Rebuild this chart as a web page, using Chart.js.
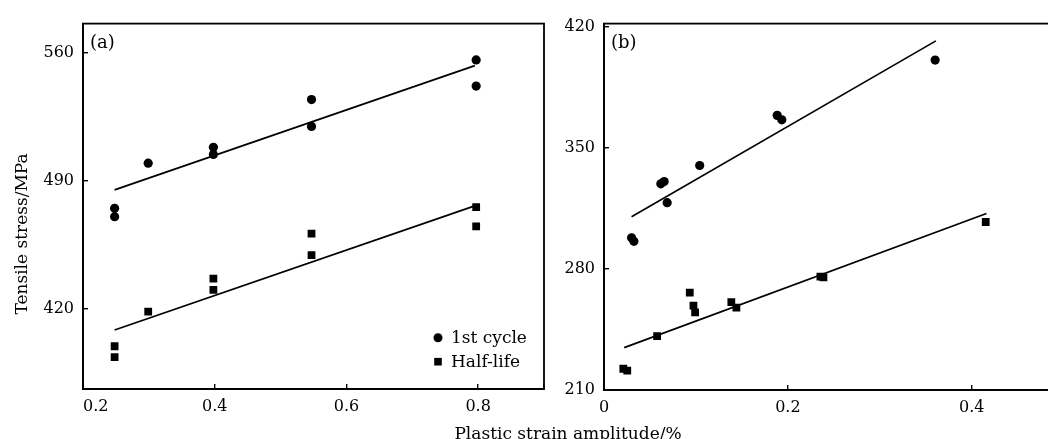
<!DOCTYPE html>
<html>
<head>
<meta charset="utf-8">
<script src="https://cdn.jsdelivr.net/npm/chart.js@4.4.1/dist/chart.umd.min.js"></script>
<style>
  html, body { margin: 0; padding: 0; background: #fff; overflow: hidden; width: 1048px; height: 439px; }
  canvas { position: absolute; left: 0; top: 0; }
</style>
</head>
<body>
<canvas id="chartA" width="1048" height="439"></canvas>
<canvas id="chartB" width="1060" height="439"></canvas>
<script>
// ---------- data ----------
const seriesNames = ['1st cycle', 'Half-life'];
const xAxisTitle = 'Plastic strain amplitude/%';
const yAxisTitle = 'Tensile stress/MPa';
const panelLabels = ['(a)', '(b)'];

const xTicksA = [0.2, 0.4, 0.6, 0.8];
const yTicksA = [420, 490, 560];
const xTicksB = [0, 0.2, 0.4];
const yTicksB = [210, 280, 350, 420];

// panel (a)
const aStrainFirst = [0.248, 0.248, 0.299, 0.398, 0.398, 0.547, 0.547, 0.797, 0.797];
const aFirstCycle  = [474.9, 470.3, 499.6, 508.3, 504.4, 534.4, 519.7, 556.1, 541.8];
const aStrainHalf  = [0.248, 0.248, 0.299, 0.398, 0.398, 0.547, 0.547, 0.797, 0.797];
const aHalfLife    = [399.4, 393.5, 418.4, 436.4, 430.2, 461.0, 449.3, 475.6, 465.0];
const aFitFirstX = [0.248, 0.795];
const aFitFirstY = [485.0, 553.0];
const aFitHalfX  = [0.248, 0.797];
const aFitHalfY  = [408.3, 476.5];

// panel (b)
const bStrainFirst = [0.030, 0.0325, 0.0618, 0.0654, 0.0687, 0.1041, 0.1884, 0.1934, 0.3602];
const bFirstCycle  = [298.1, 296.0, 329.3, 330.6, 318.4, 339.9, 368.9, 366.3, 400.9];
const bStrainHalf  = [0.0210, 0.0253, 0.0578, 0.0933, 0.0973, 0.0991, 0.1385, 0.1440, 0.2354, 0.2387, 0.4152];
const bHalfLife    = [222.3, 221.2, 241.2, 266.3, 258.8, 254.9, 260.8, 257.7, 275.6, 275.2, 307.2];
const bFitFirstX = [0.030, 0.361];
const bFitFirstY = [310.2, 412.0];
const bFitHalfX  = [0.022, 0.416];
const bFitHalfY  = [234.5, 312.1];

// ---------- helpers ----------
const FONT = '"DejaVu Serif", "Liberation Serif", serif';
Chart.defaults.font.family = FONT;
Chart.defaults.color = '#000';

const pts = (xs, ys) => xs.map((x, i) => ({ x: x, y: ys[i] }));

function scatterSet(label, xs, ys, style, radius) {
  return {
    label: label, data: pts(xs, ys), showLine: false,
    pointStyle: style, pointRadius: radius, pointHoverRadius: radius,
    pointBackgroundColor: '#000', pointBorderWidth: 0, borderColor: '#000'
  };
}
function fitSet(xs, ys) {
  return {
    label: '', data: pts(xs, ys), showLine: true, borderColor: '#000',
    borderWidth: 1.7, pointRadius: 0, tension: 0, fill: false
  };
}

const decor = {
  id: 'decor',
  afterDraw(chart, args, o) {
    const ctx = chart.ctx, a = chart.chartArea;
    ctx.save();
    ctx.strokeStyle = '#000';
    ctx.lineWidth = 1.8;
    ctx.strokeRect(a.left, a.top, a.right - a.left, a.bottom - a.top);
    ctx.fillStyle = '#000';
    ctx.textAlign = 'left';
    ctx.textBaseline = 'middle';
    ctx.font = '18px ' + FONT;
    ctx.fillText(o.panel, a.left + 7, a.top + 19.5);
    if (o.legend) {
      const ds = chart.data.datasets;
      ctx.font = '17px ' + FONT;
      const mx = a.right - 106, tx = a.right - 93;
      const y1 = a.bottom - 51.3, y2 = a.bottom - 27.3;
      ctx.beginPath(); ctx.arc(mx, y1, 4.5, 0, Math.PI * 2); ctx.fill();
      ctx.fillText(ds[0].label, tx, y1 + 0.5);
      ctx.fillRect(mx - 3.8, y2 - 3.8, 7.6, 7.6);
      ctx.fillText(ds[1].label, tx, y2 + 0.5);
    }
    if (o.titles) {
      ctx.font = '17px ' + FONT;
      ctx.textAlign = 'center';
      ctx.textBaseline = 'alphabetic';
      ctx.fillText(xAxisTitle, 568, 438.5);
      ctx.save();
      ctx.translate(26.5, 234);
      ctx.rotate(-Math.PI / 2);
      ctx.fillText(yAxisTitle, 0, 0);
      ctx.restore();
    }
    ctx.restore();
  }
};

function axisCommon() {
  return {
    border: { display: true, color: '#000', width: 1.8 },
    grid: { display: true, drawOnChartArea: false, drawTicks: true, tickLength: -5, color: '#000', lineWidth: 1.4 }
  };
}

// ---------- chart (a) ----------
new Chart(document.getElementById('chartA'), {
  type: 'scatter',
  data: {
    datasets: [
      scatterSet(seriesNames[0], aStrainFirst, aFirstCycle, 'circle', 4.6),
      scatterSet(seriesNames[1], aStrainHalf, aHalfLife, 'rect', 5.5),
      fitSet(aFitFirstX, aFitFirstY),
      fitSet(aFitHalfX, aFitHalfY)
    ]
  },
  options: {
    responsive: false, animation: false, events: [],
    layout: { padding: { left: 0, top: 12, right: 504, bottom: 0 } },
    plugins: { legend: { display: false }, tooltip: { enabled: false },
               decor: { panel: panelLabels[0], legend: true, titles: true } },
    scales: {
      x: Object.assign(axisCommon(), {
        type: 'linear', min: 0.2, max: 0.9,
        afterBuildTicks: s => { s.ticks = xTicksA.concat([s.max]).map(v => ({ value: v })); },
        afterFit: s => { s.height = 50; },
        ticks: { align: 'inner', padding: 13, font: { size: 16 }, maxRotation: 0,
                 callback: v => (xTicksA.includes(v) ? String(v) : '') }
      }),
      y: Object.assign(axisCommon(), {
        type: 'linear', min: 376, max: 576,
        afterBuildTicks: s => { s.ticks = yTicksA.map(v => ({ value: v })); },
        afterFit: s => { s.width = 83; },
        ticks: { padding: 14, font: { size: 16 }, callback: v => String(v) }
      })
    }
  },
  plugins: [decor]
});

// ---------- chart (b) ----------
new Chart(document.getElementById('chartB'), {
  type: 'scatter',
  data: {
    datasets: [
      scatterSet(seriesNames[0], bStrainFirst, bFirstCycle, 'circle', 4.6),
      scatterSet(seriesNames[1], bStrainHalf, bHalfLife, 'rect', 5.5),
      fitSet(bFitFirstX, bFitFirstY),
      fitSet(bFitHalfX, bFitHalfY)
    ]
  },
  options: {
    responsive: false, animation: false, events: [],
    layout: { padding: { left: 520, top: 12, right: 4, bottom: 0 } },
    plugins: { legend: { display: false }, tooltip: { enabled: false },
               decor: { panel: panelLabels[1], legend: false, titles: false } },
    scales: {
      x: Object.assign(axisCommon(), {
        type: 'linear', min: 0, max: 0.49,
        afterBuildTicks: s => { s.ticks = xTicksB.map(v => ({ value: v })); },
        afterFit: s => { s.height = 49; },
        ticks: { padding: 13, font: { size: 16 }, maxRotation: 0, callback: v => String(v) }
      }),
      y: Object.assign(axisCommon(), {
        type: 'linear', min: 210, max: 422,
        afterBuildTicks: s => { s.ticks = yTicksB.map(v => ({ value: v })); },
        afterFit: s => { s.width = 84; },
        ticks: { padding: 14, font: { size: 16 }, callback: v => String(v) }
      })
    }
  },
  plugins: [decor]
});
</script>
</body>
</html>
